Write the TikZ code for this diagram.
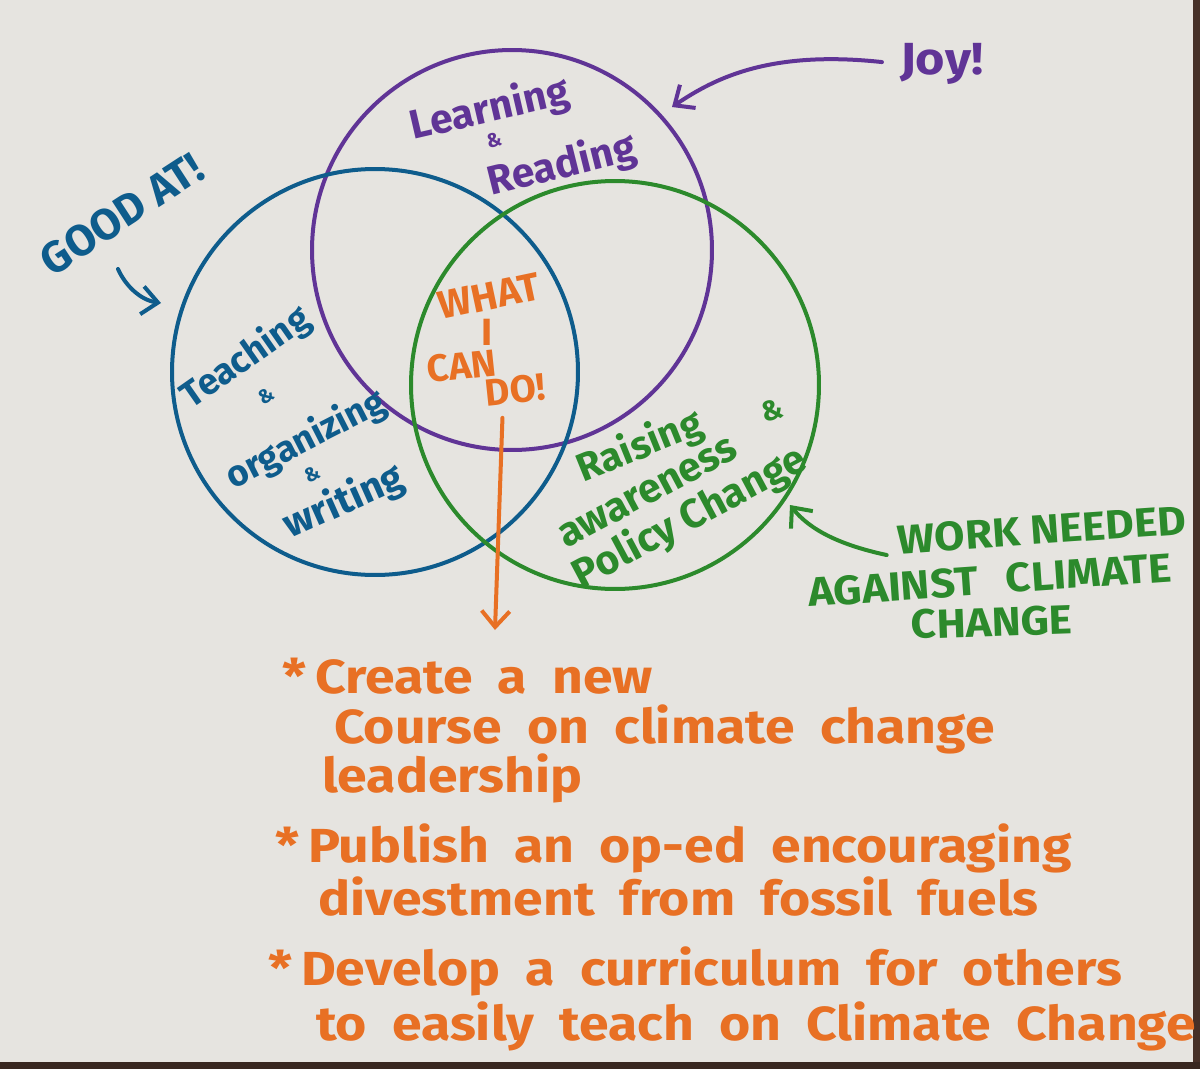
\documentclass[tikz,border=0pt]{standalone}
\usepackage{fontspec}
\usepackage{graphicx}
\setmainfont{Fira Sans}
\usetikzlibrary{arrows.meta}
\definecolor{paper}{RGB}{230,228,224}
\definecolor{pur}{RGB}{96,52,150}
\definecolor{blu}{RGB}{14,92,140}
\definecolor{grn}{RGB}{44,138,44}
\definecolor{org}{RGB}{232,112,36}
\definecolor{edge}{RGB}{70,48,40}
\newcommand{\fsz}[1]{\fontsize{#1}{#1}\selectfont}
\newcommand{\hw}[1]{\scalebox{1.12}[1]{#1}}
\newcommand{\wideline}[1]{\spaceskip=0.47em plus 0.1em\relax\hw{#1}}
\begin{document}
\begin{tikzpicture}[x=0.05cm,y=-0.05cm,
  ring/.style={circle, draw, line width=0.2cm, minimum size=#1, inner sep=0pt},
  lbl/.style={inner sep=0pt, font=\bfseries},
  listline/.style={inner sep=0pt, anchor=base west, text=org,
     font=\bfseries\fsz{68}},
  hand/.style={line width=0.2cm, line cap=round, line join=round,
     -{Straight Barb[length=0.8cm,width=1.4cm]}},
]
\useasboundingbox (0,0) rectangle (1200,1069);
\fill[paper] (0,0) rectangle (1200,1069);
\fill[edge] (1193,0) rectangle (1200,1069);
\fill[edge!80!black] (0,1062) rectangle (1200,1069);

% circles
\node[ring=20cm, pur] (joyc) at (512,250) {};
\node[ring=20.3cm, blu] (goodc) at (375,372) {};
\node[ring=20.4cm, grn] (workc) at (615,385) {};

% labels outside
\node[lbl, text=pur, font=\bfseries\fsz{64}] (joy) at (942,64) {\hw{Joy!}};
\node[lbl, text=blu, font=\bfseries\fsz{62}, rotate=33] (good) at (122,214) {GOOD AT!};
\node[lbl, text=grn, font=\bfseries\fsz{58}, rotate=4] (work1) at (1042,530) {\scalebox{1.08}[1]{WORK NEEDED}};
\node[lbl, text=grn, font=\bfseries\fsz{58}, rotate=4] (work2) at (990,580) {\scalebox{1.08}[1]{AGAINST\hspace{1.3cm}CLIMATE}};
\node[lbl, text=grn, font=\bfseries\fsz{58}, rotate=2] (work3) at (992,622) {\scalebox{1.08}[1]{CHANGE}};

% purple circle text
\node[lbl, text=pur, font=\bfseries\fsz{58}, rotate=13] (learn) at (490,110) {Learning};
\node[lbl, text=pur, font=\bfseries\fsz{28}, rotate=13] (amp1) at (494,140) {\&};
\node[lbl, text=pur, font=\bfseries\fsz{58}, rotate=14] (read) at (562,166) {Reading};

% blue circle text
\node[lbl, text=blu, font=\bfseries\fsz{52}, rotate=35] (teach) at (246,358) {Teaching};
\node[lbl, text=blu, font=\bfseries\fsz{28}, rotate=30] (amp2) at (266,396) {\&};
\node[lbl, text=blu, font=\bfseries\fsz{52}, rotate=27] (organ) at (306,440) {organizing};
\node[lbl, text=blu, font=\bfseries\fsz{28}, rotate=25] (amp3) at (312,474) {\&};
\node[lbl, text=blu, font=\bfseries\fsz{56}, rotate=24] (write) at (344,502) {writing};

% green circle text
\node[lbl, text=grn, font=\bfseries\fsz{56}, rotate=22] (raise) at (640,447) {Raising};
\node[lbl, text=grn, font=\bfseries\fsz{40}, rotate=15] (amp4) at (772,410) {\&};
\node[lbl, text=grn, font=\bfseries\fsz{58}, rotate=28] (aware) at (648,493) {awareness};
\node[lbl, text=grn, font=\bfseries\fsz{58}, rotate=28] (policy) at (690,518) {Policy Change};

% centre
\node[lbl, text=org, font=\bfseries\fsz{56}, rotate=12] (what) at (489,296) {WHAT};
\node[lbl, text=org, font=\bfseries\fsz{54}] (wi) at (487,332) {I};
\node[lbl, text=org, font=\bfseries\fsz{54}, rotate=6] (can) at (462,366) {CAN};
\node[lbl, text=org, font=\bfseries\fsz{54}, rotate=6] (do) at (515,390) {DO!};

% list
\node[listline] (l1) at (282,693) {\wideline{*\,Create a new}};
\node[listline] (l2) at (334,743) {\wideline{Course on climate change}};
\node[listline] (l3) at (322,792) {\wideline{leadership}};
\node[listline] (l4) at (275,862) {\wideline{*\,Publish an op-ed encouraging}};
\node[listline] (l5) at (318,915) {\wideline{divestment from fossil fuels}};
\node[listline] (l6) at (268,985) {\wideline{*\,Develop a curriculum for others}};
\node[listline] (l7) at (316,1040) {\wideline{to easily teach on Climate Change}};

% arrows
\coordinate (joytip) at (672,107);
\draw[hand, pur, shorten <=0.9cm] (joy.west) .. controls (770,50) and (715,78) .. (joytip);
\coordinate (goodtip) at (161,303);
\draw[hand, blu] ([shift={(-4,55)}]good.center) .. controls (125,285) and (140,300) .. (goodtip);
\coordinate (worktip) at (790,505);
\draw[hand, grn] ([xshift=-0.6cm]work1.south west) .. controls (840,545) and (810,530) .. (worktip);
\coordinate (dotip) at (495,630);
\draw[hand, org] ([shift={(-14,14)}]do.south) -- (dotip);
\end{tikzpicture}
\end{document}
